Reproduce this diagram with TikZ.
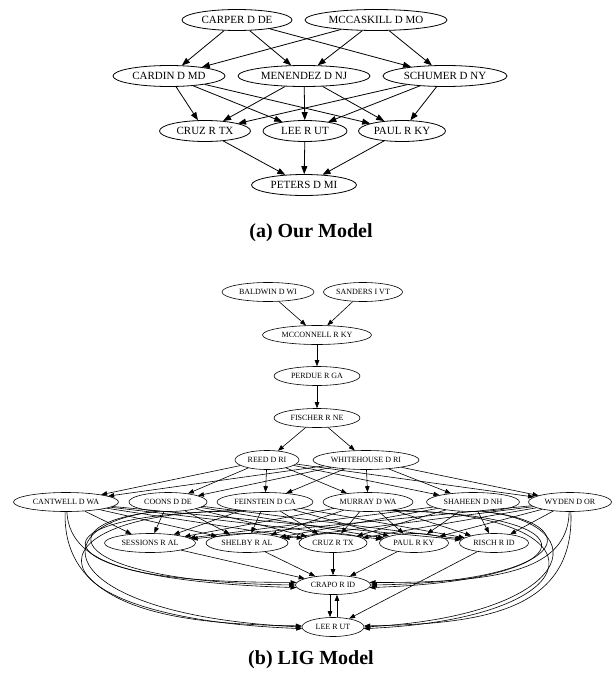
\documentclass[tikz,border=0pt]{standalone}
\usepackage{fontspec}
\setmainfont{Liberation Serif}
\usetikzlibrary{shapes.geometric,arrows.meta}
\begin{document}
\begin{tikzpicture}[x=1pt,y=-1pt,
  na/.style={ellipse,draw,line width=0.8pt,inner xsep=-10pt,inner ysep=-6pt,minimum height=21pt,minimum width=#1,font=\fontsize{11}{12}\selectfont},
  nb/.style={ellipse,draw,line width=0.6pt,inner xsep=-10pt,inner ysep=-6pt,minimum height=19pt,minimum width=#1,font=\fontsize{8}{9}\selectfont},
  ea/.style={-{Triangle[length=8pt,width=6pt]},line width=0.8pt},
  eb/.style={-{Triangle[length=6pt,width=4.5pt]},line width=0.6pt},
  captext/.style={font=\bfseries\fontsize{20}{22}\selectfont}]
\useasboundingbox (0,0) rectangle (613,682);
% ---------- (a)
\node[na=110pt] (carper) at (237,20) {CARPER D DE};
\node[na=142pt] (mccaskill) at (376,20) {MCCASKILL D MO};
\node[na=112pt] (cardin) at (169,76) {CARDIN D MD};
\node[na=132pt] (menendez) at (304,76) {MENENDEZ D NJ};
\node[na=124pt] (schumer) at (445,76) {SCHUMER D NY};
\node[na=91pt] (cruzA) at (205,131) {CRUZ R TX};
\node[na=84pt] (leeA) at (305,131) {LEE R UT};
\node[na=87pt] (paulA) at (402,131) {PAUL R KY};
\node[na=105pt] (peters) at (304,185) {PETERS D MI};
\foreach \s in {carper,mccaskill}
  \foreach \t in {cardin,menendez,schumer}
    \draw[ea] (\s) -- (\t);
\foreach \s in {cardin,menendez,schumer}
  \foreach \t in {cruzA,leeA,paulA}
    \draw[ea] (\s) -- (\t);
\foreach \s in {cruzA,leeA,paulA}
  \draw[ea] (\s) -- (peters);
\node[captext] (capa) at (311,233) {(a) Our Model};
% ---------- (b)
\node[nb=92pt] (baldwin) at (268,292) {BALDWIN D WI};
\node[nb=79pt] (sanders) at (363,292) {SANDERS I VT};
\node[nb=109pt] (mcconnell) at (317,335) {MCCONNELL R KY};
\node[nb=86pt] (perdue) at (317,376) {PERDUE R GA};
\node[nb=86pt] (fischer) at (317,418) {FISCHER R NE};
\node[nb=64pt] (reed) at (267,460) {REED D RI};
\node[nb=106pt] (whitehouse) at (366,460) {WHITEHOUSE D RI};
\node[nb=105pt] (cantwell) at (66,502) {CANTWELL D WA};
\node[nb=78pt] (coons) at (168,502) {COONS D DE};
\node[nb=96pt] (feinstein) at (265,502) {FEINSTEIN D CA};
\node[nb=90pt] (murray) at (368,502) {MURRAY D WA};
\node[nb=93pt] (shaheen) at (473,502) {SHAHEEN D NH};
\node[nb=83pt] (wyden) at (570,502) {WYDEN D OR};
\node[nb=91pt] (sessions) at (150,543) {SESSIONS R AL};
\node[nb=82pt] (shelby) at (247,543) {SHELBY R AL};
\node[nb=68pt] (cruzB) at (333,543) {CRUZ R TX};
\node[nb=69pt] (paulB) at (414,543) {PAUL R KY};
\node[nb=69pt] (risch) at (494,543) {RISCH R ID};
\node[nb=75pt] (crapo) at (333,585) {CRAPO R ID};
\node[nb=62pt] (leeB) at (333,627) {LEE R UT};
\draw[eb] (baldwin) -- (mcconnell);
\draw[eb] (sanders) -- (mcconnell);
\draw[eb] (mcconnell) -- (perdue);
\draw[eb] (perdue) -- (fischer);
\draw[eb] (fischer) -- (reed);
\draw[eb] (fischer) -- (whitehouse);
\foreach \s in {reed,whitehouse}
  \foreach \t in {cantwell,coons,feinstein,murray,shaheen,wyden}
    \draw[eb] (\s) -- (\t);
\foreach \s in {cantwell,coons,feinstein,murray,shaheen,wyden}
  \foreach \t in {sessions,shelby,cruzB,paulB,risch}
    \draw[eb] (\s) -- (\t);
\foreach \s in {sessions,shelby,cruzB,paulB}
  \draw[eb] (\s) -- (crapo);
\draw[eb] (risch) -- (leeB);
\draw[eb] ([xshift=-3pt]crapo.south) -- ([xshift=-3pt]leeB.north);
\draw[eb] ([xshift=4pt]leeB.north) -- ([xshift=4pt]crapo.south);
% curved edges, left
\draw[eb] (cantwell.-85) .. controls (70,570) and (150,582) .. (crapo.176);
\draw[eb] (cantwell.-95) .. controls (62,612) and (180,624) .. (leeB.178);
\draw[eb] (coons.-135) .. controls (45,522) and (65,582) .. (crapo.180);
\draw[eb] (coons.-140) .. controls (35,525) and (60,615) .. (leeB.180);
\draw[eb] (feinstein.-155) .. controls (20,512) and (30,580) .. (crapo.184);
\draw[eb] (feinstein.-160) .. controls (15,512) and (25,618) .. (leeB.183);
% curved edges, right
\draw[eb] (wyden.-95) .. controls (568,570) and (500,583) .. (crapo.4);
\draw[eb] (wyden.-85) .. controls (575,612) and (480,624) .. (leeB.2);
\draw[eb] (shaheen.-45) .. controls (590,522) and (570,582) .. (crapo.0);
\draw[eb] (shaheen.-40) .. controls (600,525) and (575,615) .. (leeB.0);
\draw[eb] (murray.-25) .. controls (600,512) and (590,580) .. (crapo.-4);
\draw[eb] (murray.-20) .. controls (610,512) and (600,618) .. (leeB.-3);
\node[captext] (capb) at (311,660) {(b) LIG Model};
\end{tikzpicture}
\end{document}
